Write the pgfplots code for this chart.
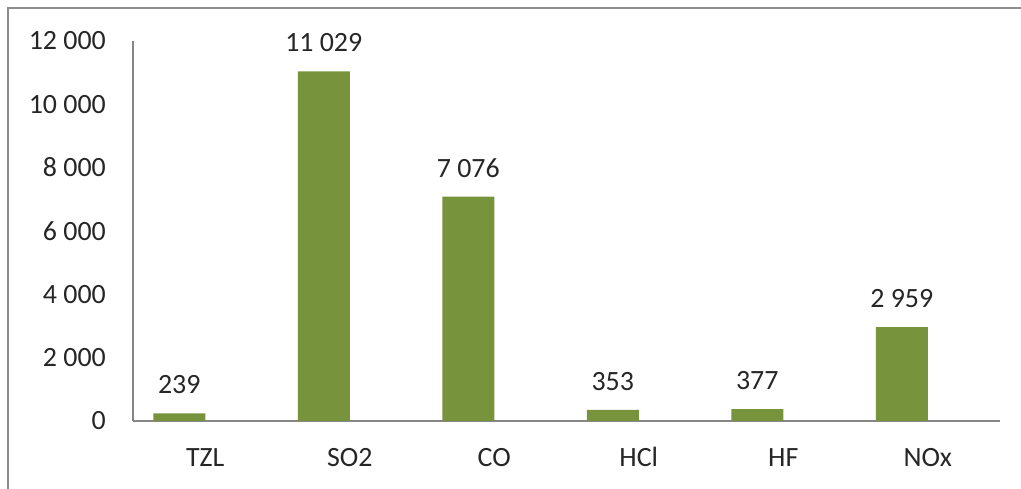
\documentclass[border=0pt]{standalone}
\usepackage{fontspec}
\setmainfont{Carlito}
\usepackage{pgfplots}
\pgfplotsset{compat=1.18}
\definecolor{bargreen}{HTML}{77933C}
\definecolor{axisgray}{HTML}{868686}
\definecolor{framegray}{HTML}{8C8C8C}
\definecolor{txt}{HTML}{262626}
\begin{document}
\begin{tikzpicture}[x=1bp,y=1bp]
\useasboundingbox (0,0) rectangle (1021,489);
\draw[framegray, line width=2.5bp] (8,0) -- (8,481) -- (1021,481);
\begin{axis}[
  at={(133bp,68bp)}, anchor=south west,
  scale only axis, width=867bp, height=380.3bp,
  xmin=-0.5, xmax=5.5, ymin=0, ymax=12000,
  axis lines*=left,
  axis line style={axisgray, line width=1.3bp},
  major tick length=0pt,
  xtick={0,...,5}, xticklabels={TZL,SO2,CO,HCl,HF,NOx},
  ytick={0,2000,...,12000},
  scaled y ticks=false,
  ybar, bar width=52bp, bar shift=-26bp,
  every tick label/.append style={font=\fontsize{28}{32}\selectfont, text=txt},
  yticklabel style={anchor=east, xshift=-27bp, inner sep=0pt},
  xticklabel style={anchor=base, yshift=-46bp, inner sep=0pt},
  /pgf/number format/1000 sep={\ },
  /pgf/number format/assume math mode=true,
  nodes near coords,
  nodes near coords style={anchor=base, yshift=19.7bp, inner sep=0pt, font=\fontsize{28}{32}\selectfont, text=txt},
  enlargelimits=false, clip=false,
]
\addplot[fill=bargreen, draw=none] coordinates {(0,239) (1,11029) (2,7076) (3,353) (4,377) (5,2959)};
\end{axis}
\end{tikzpicture}
\end{document}
